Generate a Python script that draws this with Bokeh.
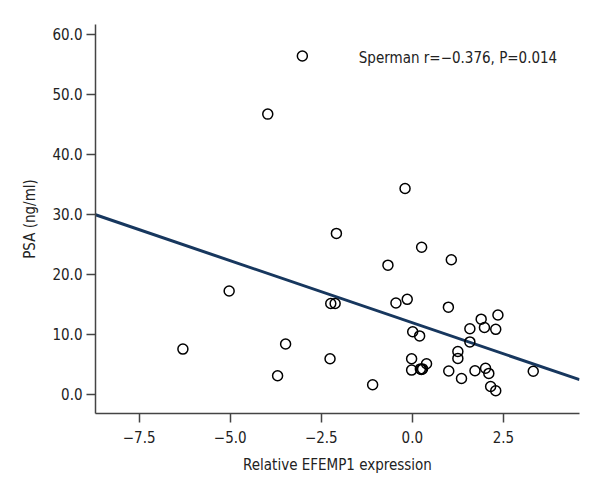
from bokeh.plotting import figure
from bokeh.models import Range1d, FixedTicker, Label, ColumnDataSource
from bokeh.embed import file_html
from bokeh.resources import INLINE

# data
efemp1 = [-3.02, -3.97, -2.085, -0.67, -5.03, -2.24, -2.12, -6.30, -3.48, -2.26,
          -3.70, -1.09, -0.20, 0.255, 1.07, -0.45, -0.14, 0.99, 1.89, 2.35,
          1.58, 1.98, 2.29, 0.01, 0.20, 1.58, 1.25, 1.25, -0.02, 0.39,
          -0.02, 0.22, 0.25, 0.28, 1.00, 1.35, 1.72, 2.01, 2.10, 2.15,
          2.29, 3.32]
psa = [56.4, 46.7, 26.8, 21.5, 17.2, 15.1, 15.1, 7.5, 8.35, 5.9,
       3.05, 1.55, 34.3, 24.5, 22.4, 15.2, 15.8, 14.5, 12.5, 13.2,
       10.9, 11.1, 10.8, 10.4, 9.7, 8.7, 7.1, 5.95, 5.9, 5.05,
       4.0, 4.2, 4.1, 4.2, 3.84, 2.6, 3.9, 4.3, 3.45, 1.27,
       0.55, 3.8]

fit_intercept = 11.9
fit_slope = -2.07

x_ticks = [-7.5, -5.0, -2.5, 0.0, 2.5]
x_tick_labels = ["\u22127.5", "\u22125.0", "\u22122.5", "0.0", "2.5"]
y_ticks = [0, 10, 20, 30, 40, 50, 60]
y_tick_labels = ["0.0", "10.0", "20.0", "30.0", "40.0", "50.0", "60.0"]

x_label = "Relative EFEMP1 expression"
y_label = "PSA (ng/ml)"
stat_text = "Sperman r=\u22120.376, P=0.014"

FONT = "DejaVu Sans Condensed"
FS = "15px"

x0, x1 = -8.70, 4.59
y0, y1 = -3.24, 61.65

p = figure(width=592, height=488, output_backend="svg", toolbar_location=None,
           x_range=Range1d(x0, x1), y_range=Range1d(y0, y1),
           min_border_left=95, min_border_right=13, min_border_top=24,
           min_border_bottom=75)
p.outline_line_color = None
p.xgrid.visible = False
p.ygrid.visible = False
p.background_fill_color = "white"
p.border_fill_color = "white"

for ax in (p.xaxis[0], p.yaxis[0]):
    ax.axis_line_color = "#444444"
    ax.axis_line_width = 1.5
    ax.major_tick_line_color = "#444444"
    ax.major_tick_line_width = 1.5
    ax.major_tick_in = 0
    ax.major_tick_out = 9
    ax.minor_tick_line_color = None
    ax.major_label_text_font = FONT
    ax.major_label_text_font_size = FS
    ax.major_label_text_color = "#222222"
    ax.axis_label_text_font = FONT
    ax.axis_label_text_font_size = FS
    ax.axis_label_text_font_style = "normal"
    ax.axis_label_text_color = "#222222"

p.xaxis[0].ticker = FixedTicker(ticks=x_ticks)
p.xaxis[0].major_label_overrides = dict(zip(x_ticks, x_tick_labels))
p.xaxis[0].major_label_standoff = 8
p.xaxis[0].axis_label = x_label
p.xaxis[0].axis_label_standoff = 10
p.yaxis[0].ticker = FixedTicker(ticks=y_ticks)
p.yaxis[0].major_label_overrides = dict(zip(y_ticks, y_tick_labels))
p.yaxis[0].major_label_standoff = 4
p.yaxis[0].axis_label = y_label
p.yaxis[0].axis_label_standoff = 10

# regression line
lx = [x0, x1]
ly = [fit_intercept + fit_slope * v for v in lx]
p.line(lx, ly, line_color="#17375e", line_width=3)

src = ColumnDataSource(dict(x=efemp1, y=psa))
p.scatter("x", "y", source=src, size=10, fill_color=None, line_color="black",
          line_width=1.5)

p.add_layout(Label(x=-1.47, y=56.0, text=stat_text, text_font=FONT,
                   text_font_size=FS, text_baseline="middle",
                   text_color="#222222"))

open("out.html", "w").write(file_html(p, INLINE))
